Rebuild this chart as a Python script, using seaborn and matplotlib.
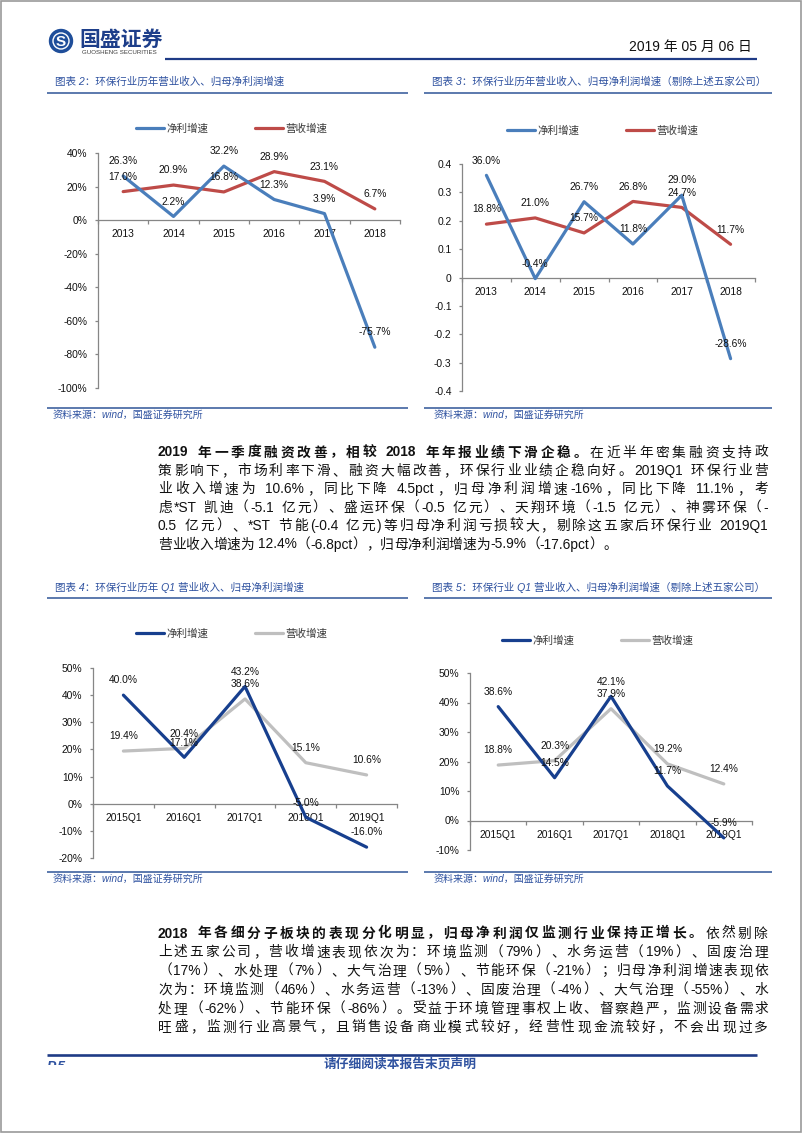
import re
import numpy as np
import pandas as pd
import matplotlib
matplotlib.use("Agg")
import matplotlib.pyplot as plt
import seaborn as sns
from matplotlib import font_manager as fm
from matplotlib.patches import Circle, Rectangle

# ---------------- data ----------------
series_names = ["净利增速", "营收增速"]
years = ["2013", "2014", "2015", "2016", "2017", "2018"]
quarters = ["2015Q1", "2016Q1", "2017Q1", "2018Q1", "2019Q1"]

fig2_profit = [26.3, 2.2, 32.2, 12.3, 3.9, -75.7]
fig2_revenue = [17.0, 20.9, 16.8, 28.9, 23.1, 6.7]
fig3_profit = [36.0, -0.4, 26.7, 11.8, 29.0, -28.6]
fig3_revenue = [18.8, 21.0, 15.7, 26.8, 24.7, 11.7]
fig4_profit = [40.0, 17.1, 43.2, -5.0, -16.0]
fig4_revenue = [19.4, 20.4, 38.6, 15.1, 10.6]
fig5_profit = [38.6, 14.5, 42.1, 11.7, -5.9]
fig5_revenue = [18.8, 20.3, 37.9, 19.2, 12.4]

fig2_yticks = [-100, -80, -60, -40, -20, 0, 20, 40]
fig2_yticklabels = ["-100%", "-80%", "-60%", "-40%", "-20%", "0%", "20%", "40%"]
fig3_yticks = [-0.4, -0.3, -0.2, -0.1, 0, 0.1, 0.2, 0.3, 0.4]
fig3_yticklabels = ["-0.4", "-0.3", "-0.2", "-0.1", "0", "0.1", "0.2", "0.3", "0.4"]
fig4_yticks = [-20, -10, 0, 10, 20, 30, 40, 50]
fig4_yticklabels = ["-20%", "-10%", "0%", "10%", "20%", "30%", "40%", "50%"]
fig5_yticks = [-10, 0, 10, 20, 30, 40, 50]
fig5_yticklabels = ["-10%", "0%", "10%", "20%", "30%", "40%", "50%"]

titles = ["图表 2：环保行业历年营业收入、归母净利润增速",
          "图表 3：环保行业历年营业收入、归母净利润增速（剔除上述五家公司）",
          "图表 4：环保行业历年 Q1 营业收入、归母净利润增速",
          "图表 5：环保行业 Q1 营业收入、归母净利润增速（剔除上述五家公司）"]
source_text = "资料来源：wind，国盛证券研究所"

para1 = [
    [("2019 年一季度融资改善，相较 2018 年年报业绩下滑企稳。", "bold"), ("在近半年密集融资支持政", "normal")],
    [("策影响下，市场利率下滑、融资大幅改善，环保行业业绩企稳向好。2019Q1 环保行业营", "normal")],
    [("业收入增速为 10.6%，同比下降 4.5pct，归母净利润增速-16%，同比下降 11.1%，考", "normal")],
    [("虑*ST 凯迪（-5.1 亿元）、盛运环保（-0.5 亿元）、天翔环境（-1.5 亿元）、神雾环保（-", "normal")],
    [("0.5 亿元）、*ST 节能(-0.4 亿元)等归母净利润亏损较大，剔除这五家后环保行业 2019Q1", "normal")],
    [("营业收入增速为 12.4%（-6.8pct），归母净利润增速为-5.9%（-17.6pct）。", "normal")],
]
para2 = [
    [("2018 年各细分子板块的表现分化明显，归母净利润仅监测行业保持正增长。", "bold"), ("依然剔除", "normal")],
    [("上述五家公司，营收增速表现依次为：环境监测（79%）、水务运营（19%）、固废治理", "normal")],
    [("（17%）、水处理（7%）、大气治理（5%）、节能环保（-21%）；归母净利润增速表现依", "normal")],
    [("次为：环境监测（46%）、水务运营（-13%）、固废治理（-4%）、大气治理（-55%）、水", "normal")],
    [("处理（-62%）、节能环保（-86%）。受益于环境管理事权上收、督察趋严，监测设备需求", "normal")],
    [("旺盛，监测行业高景气，且销售设备商业模式较好，经营性现金流较好，不会出现过多", "normal")],
]

# ---------------- style ----------------
sns.set_style("white")
LAT = "Liberation Sans"
CJK = "Noto Sans CJK SC"
FAM = [LAT, CJK]
plt.rcParams["font.family"] = FAM
plt.rcParams["axes.unicode_minus"] = False

W, H = 802, 1133
fig = plt.figure(figsize=(W / 100, H / 100), dpi=100)
fig.patch.set_facecolor("white")

pg = fig.add_axes([0, 0, 1, 1], zorder=0)
pg.set_xlim(0, W)
pg.set_ylim(H, 0)
pg.axis("off")

NAVY = "#1F3B86"
CAP_C = "#2F52A0"
LINE_C = "#2F5597"
TXT_C = "#111111"
SPINE_C = "#868686"

# page frame
pg.add_patch(Rectangle((0.8, 0.8), W - 1.6, H - 1.6, fill=False, ec="#9a9a9a", lw=1.2))

# header
pg.add_patch(Circle((61, 41), 11.5, color="#1F4E9A"))
pg.add_patch(Circle((61, 41), 8.0, fill=False, ec="white", lw=1.0))
pg.text(61, 41.5, "S", color="white", fontsize=11, fontweight="bold", ha="center", va="center", family=LAT)
pg.text(79, 39.5, "国盛证券", fontsize=15, fontweight="bold", color="#1D3E8A", va="center", ha="left", family=[CJK])
pg.text(82, 52.5, "GUOSHENG SECURITIES", fontsize=4.4, color="#3c3c3c", va="center", ha="left", family=LAT)
pg.text(752, 47, "2019 年 05 月 06 日", fontsize=10, ha="right", va="center", color="#111111")
pg.plot([165, 757], [59, 59], color=NAVY, lw=1.6, solid_capstyle="butt")

# captions, rules, sources
for (x, y), t in zip([(55, 82), (432, 82), (55, 587), (432, 587)], titles):
    pg.text(x, y, t, fontsize=7.6, color=CAP_C, style="italic", va="center", ha="left")
for y in (93, 598, 408, 872):
    pg.plot([47, 408], [y, y], color=LINE_C, lw=1.1, solid_capstyle="butt")
    pg.plot([424, 772], [y, y], color=LINE_C, lw=1.1, solid_capstyle="butt")
for (x, y) in [(53, 415), (434, 415), (53, 879), (434, 879)]:
    pg.text(x, y, source_text, fontsize=7.2, color=CAP_C, style="italic", va="center", ha="left")

# footer
pg.plot([47, 757], [1055, 1055], color=NAVY, lw=1.9, solid_capstyle="butt")
pg.text(400, 1064, "请仔细阅读本报告末页声明", fontsize=9.2, fontweight="bold", color=CAP_C,
        style="italic", ha="center", va="center")
p5 = pg.text(47, 1067, "P.5", fontsize=10, fontweight="bold", color=CAP_C, style="italic", ha="left", va="center")
clip = Rectangle((0, 1057), 200, 8, transform=pg.transData)
p5.set_clip_on(True)
p5.set_clip_path(clip)

# ---------------- body text with justification ----------------
BODY_SIZE = 9.9
_fcache = {}


def _ft(fam, weight):
    key = (fam, weight)
    if key not in _fcache:
        _fcache[key] = fm.get_font(fm.findfont(fm.FontProperties(family=fam, weight=weight)))
    return _fcache[key]


def advance(tok, weight):
    total = 0.0
    for ch in tok:
        done = False
        for fam in (LAT, CJK):
            f = _ft(fam, weight)
            if f.get_char_index(ord(ch)):
                f.set_size(BODY_SIZE, 100)
                g = f.load_char(ord(ch))
                total += g.linearHoriAdvance / 65536.0
                done = True
                break
        if not done:
            total += BODY_SIZE * 100 / 72 * 0.5
    return total


def draw_line(x0, ybase, parts, width=None):
    items = []
    for text, weight in parts:
        for tok in re.findall(r"[\x21-\x7e]+|\s+|[^\x21-\x7e\s]", text):
            items.append((tok, weight, advance(tok, weight)))
    total = sum(a for _, _, a in items)
    extra = (width - total) / (len(items) - 1) if width else 0.0
    x = x0
    for tok, wt, a in items:
        if not tok.isspace():
            pg.text(x, ybase, tok, fontsize=BODY_SIZE, fontweight=wt, ha="left",
                    va="baseline", color=TXT_C, family=FAM)
        x += a + extra


for i, parts in enumerate(para1):
    draw_line(158, 456.5 + i * 18.4, parts, width=None if i == len(para1) - 1 else 610)
for i, parts in enumerate(para2):
    draw_line(158, 937.5 + i * 18.8, parts, width=610)


# ---------------- charts ----------------
def chart(box, cats, profit, revenue, colors, ylim, yticks, yticklabels, scale, legend_center):
    x0, y0, x1, y1 = box
    ax = fig.add_axes([x0 / W, 1 - y1 / H, (x1 - x0) / W, (y1 - y0) / H], zorder=2)
    ax.patch.set_alpha(0)
    n = len(cats)
    df = pd.DataFrame({
        "period": cats * 2,
        "value": [v * scale for v in profit] + [v * scale for v in revenue],
        "series": [series_names[0]] * n + [series_names[1]] * n,
    })
    # revenue first, profit on top
    sns.lineplot(data=df[df["series"] == series_names[1]], x="period", y="value", ax=ax,
                 color=colors[1], linewidth=2.3, sort=False, errorbar=None,
                 label=series_names[1], zorder=2)
    sns.lineplot(data=df[df["series"] == series_names[0]], x="period", y="value", ax=ax,
                 color=colors[0], linewidth=2.3, sort=False, errorbar=None,
                 label=series_names[0], zorder=3)
    ax.set_xlim(-0.5, n - 0.5)
    ax.set_ylim(*ylim)
    ax.set_xlabel("")
    ax.set_ylabel("")
    for s in ("top", "right"):
        ax.spines[s].set_visible(False)
    ax.spines["bottom"].set_position(("data", 0))
    for s in ("left", "bottom"):
        ax.spines[s].set_color(SPINE_C)
        ax.spines[s].set_linewidth(0.9)
    ax.set_xticks(range(n))
    ax.set_xticklabels(cats)
    ax.set_xticks(np.arange(n + 1) - 0.5, minor=True)
    ax.tick_params(axis="x", which="major", length=0, pad=6.5, labelsize=7.4, labelcolor=TXT_C)
    ax.tick_params(axis="x", which="minor", bottom=True, length=3, width=0.9, color=SPINE_C, direction="out")
    ax.set_yticks(yticks)
    ax.set_yticklabels(yticklabels)
    ax.tick_params(axis="y", left=True, length=2.5, width=0.9, color=SPINE_C, pad=5,
                   labelsize=7.4, labelcolor=TXT_C, direction="out")
    ax.grid(False)
    for i in range(n):
        for v in (profit[i], revenue[i]):
            ax.annotate(f"{v:.1f}%", xy=(i, v * scale), xytext=(0, 10.6), textcoords="offset points",
                        ha="center", va="center", fontsize=7.4, color=TXT_C, annotation_clip=False, zorder=5)
    handles, labels = ax.get_legend_handles_labels()
    order = [labels.index(nm) for nm in series_names]
    cx, cy = legend_center
    ax.legend([handles[k] for k in order], [labels[k] for k in order], loc="center",
              bbox_to_anchor=(cx / W, 1 - cy / H), bbox_transform=fig.transFigure, ncol=2,
              frameon=False, handlelength=2.6, handletextpad=0.3, columnspacing=4.4,
              borderpad=0, borderaxespad=0, prop=fm.FontProperties(family=[CJK], size=7.6),
              labelcolor="#3a3a3a")
    return ax


chart((98, 153, 400, 388), years, fig2_profit, fig2_revenue, ("#4A7EBB", "#BE4B48"),
      (-100, 40), fig2_yticks, fig2_yticklabels, 1.0, (232, 129))
chart((462, 164, 755, 391), years, fig3_profit, fig3_revenue, ("#4A7EBB", "#BE4B48"),
      (-0.4, 0.4), fig3_yticks, fig3_yticklabels, 0.01, (603, 131))
chart((93, 668, 397, 858), quarters, fig4_profit, fig4_revenue, ("#173F8E", "#BFBFBF"),
      (-20, 50), fig4_yticks, fig4_yticklabels, 1.0, (232, 634))
chart((470, 673, 752, 850), quarters, fig5_profit, fig5_revenue, ("#173F8E", "#BFBFBF"),
      (-10, 50), fig5_yticks, fig5_yticklabels, 1.0, (598, 641))

fig.savefig("out.png", dpi=100, facecolor="white")
